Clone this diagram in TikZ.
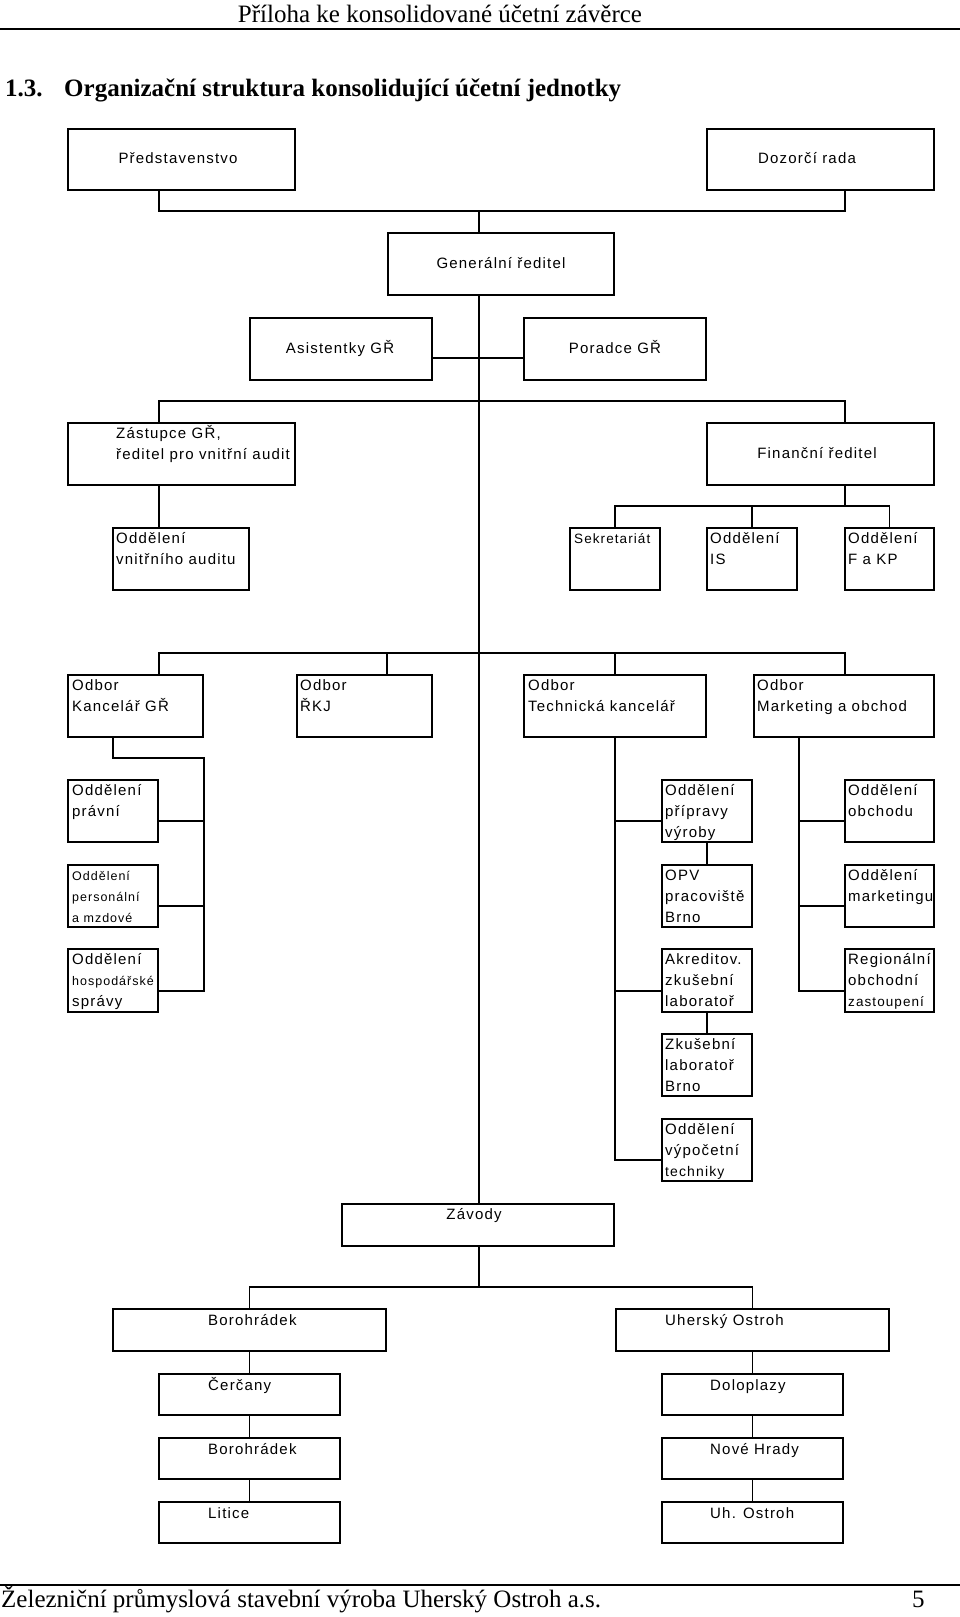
\documentclass[tikz,border=0pt]{standalone}
\usepackage{fontspec}
\setmainfont{Liberation Serif}
\newfontfamily\arl[LetterSpace=8]{Liberation Sans}
\tikzset{
  ubox/.style={draw=black, line width=2.4pt, fill=white, inner sep=0pt},
  ln/.style={draw=black, line width=1.3pt},
  tx/.style={inner sep=0pt, font=\arl\fontsize{15}{21}\selectfont},
  hd/.style={inner sep=0pt, font=\fontsize{25}{30}\selectfont},
}
\newcommand\ml[1]{\vtop{\baselineskip=21pt\lineskiplimit=-50pt\halign{##\hfil\cr#1\crcr}}}
\newcommand\sm{\fontsize{12.5}{15}\selectfont}
\newcommand\smm{\fontsize{13.5}{15}\selectfont}
\newcommand\smt{\fontsize{14}{15}\selectfont}
\newcommand\bx[5]{\node[ubox, minimum width={#4-#2-2.4}, minimum height={#5-#3-2.4}] (#1) at ({(#2+#4)/2},{(#3+#5)/2}) {};}
\newcommand\tl[4]{\node[tx, anchor=base west] (#1) at (#2,#3) {\ml{#4}};}
\newcommand\tc[4]{\node[tx, anchor=base] (#1) at (#2,#3) {#4};}
\begin{document}
\begin{tikzpicture}[x=1pt,y=-1pt]
\useasboundingbox[fill=white] (0,0) rectangle (960,1617);
% header and footer
\node[hd, anchor=base] (hdr) at (440,22) {Příloha ke konsolidované účetní závěrce};
\draw[line width=2pt] (0,29) -- (960,29);
\node[hd, anchor=base west, font=\bfseries\fontsize{25}{30}\selectfont] (tnum) at (5,96) {1.3.};
\node[hd, anchor=base west, font=\bfseries\fontsize{25}{30}\selectfont] (ttl) at (64,96) {Organizační struktura konsolidující účetní jednotky};
\draw[line width=2pt] (0,1585) -- (960,1585);
\node[hd, anchor=base west] (ftr) at (1,1607) {Železniční průmyslová stavební výroba Uherský Ostroh a.s.};
\node[hd, anchor=base west] (pg) at (912,1607) {5};

% boxes
\bx{pred}{67}{128}{296}{191}
\bx{dozor}{706}{128}{935}{191}
\bx{gen}{387}{232}{615}{296}
\bx{asist}{249}{317}{433}{381}
\bx{porad}{523}{317}{707}{381}
\bx{zast}{67}{422}{296}{486}
\bx{fin}{706}{422}{935}{486}
\bx{ovau}{112}{527}{250}{591}
\bx{sekr}{569}{527}{661}{591}
\bx{ois}{706}{527}{798}{591}
\bx{ofkp}{844}{527}{935}{591}
\bx{okan}{67}{674}{204}{738}
\bx{orkj}{296}{674}{433}{738}
\bx{otk}{523}{674}{707}{738}
\bx{omo}{753}{674}{935}{738}
\bx{oprav}{67}{779}{159}{843}
\bx{opers}{67}{864}{159}{928}
\bx{ohosp}{67}{948}{159}{1013}
\bx{oprip}{661}{779}{753}{843}
\bx{opv}{661}{864}{753}{928}
\bx{akr}{661}{948}{753}{1013}
\bx{zkb}{661}{1033}{753}{1097}
\bx{ovt}{661}{1118}{753}{1182}
\bx{oobch}{844}{779}{935}{843}
\bx{omark}{844}{864}{935}{928}
\bx{oreg}{844}{948}{935}{1013}
\bx{zav}{341}{1203}{615}{1247}
\bx{boro}{112}{1308}{387}{1352}
\bx{uho}{615}{1308}{890}{1352}
\bx{cerc}{158}{1373}{341}{1416}
\bx{borob}{158}{1437}{341}{1480}
\bx{lit}{158}{1501}{341}{1544}
\bx{dolo}{661}{1373}{844}{1416}
\bx{nove}{661}{1437}{844}{1480}
\bx{uhos}{661}{1501}{844}{1544}

% texts
\tc{tpred}{178}{163}{Představenstvo}
\tc{tdozor}{807}{163}{Dozorčí rada}
\tc{tgen}{501}{268}{Generální ředitel}
\tc{tasist}{340}{353}{Asistentky GŘ}
\tc{tporad}{615}{353}{Poradce GŘ}
\tl{tzast}{116}{438}{Zástupce GŘ,\cr ředitel pro vnitřní audit}
\tc{tfin}{817}{458}{Finanční ředitel}
\tl{tovau}{116}{543}{Oddělení\cr vnitřního auditu}
\tl{tsekr}{574}{543}{\smm Sekretariát}
\tl{tois}{710}{543}{Oddělení\cr IS}
\tl{tofkp}{848}{543}{Oddělení\cr F a KP}
\tl{tokan}{72}{690}{Odbor\cr Kancelář GŘ}
\tl{torkj}{300}{690}{Odbor\cr ŘKJ}
\tl{totk}{528}{690}{Odbor\cr Technická kancelář}
\tl{tomo}{757}{690}{Odbor\cr Marketing a obchod}
\tl{toprav}{72}{795}{Oddělení\cr právní}
\tl{topers}{72}{880}{\sm Oddělení\cr \sm personální\cr \sm a mzdové}
\tl{tohosp}{72}{964}{Oddělení\cr \sm hospodářské\cr správy}
\tl{toprip}{665}{795}{Oddělení\cr přípravy\cr výroby}
\tl{topv}{665}{880}{OPV\cr pracoviště\cr Brno}
\tl{takr}{665}{964}{Akreditov.\cr zkušební\cr laboratoř}
\tl{tzkb}{665}{1049}{Zkušební\cr laboratoř\cr Brno}
\tl{tovt}{665}{1134}{Oddělení\cr výpočetní\cr \smt techniky}
\tl{toobch}{848}{795}{Oddělení\cr obchodu}
\tl{tomark}{848}{880}{Oddělení\cr marketingu}
\tl{toreg}{848}{964}{Regionální\cr obchodní\cr \smm zastoupení}
\tc{tzav}{474}{1219}{Závody}
\tl{tboro}{208}{1325}{Borohrádek}
\tl{tuho}{665}{1325}{Uherský Ostroh}
\tl{tcerc}{208}{1390}{Čerčany}
\tl{tborob}{208}{1454}{Borohrádek}
\tl{tlit}{208}{1518}{Litice}
\tl{tdolo}{710}{1390}{Doloplazy}
\tl{tnove}{710}{1454}{Nové Hrady}
\tl{tuhos}{710}{1518}{Uh. Ostroh}

% connectors
\coordinate (t1) at (159,211);
\coordinate (t2) at (845,211);
\coordinate (tm) at (479,211);
\draw[ln] (t1 |- pred.south) -- (t1) -- (t2) -- (t2 |- dozor.south);
\draw[ln] (tm) -- (tm |- gen.north);
\draw[ln] (tm |- gen.south) -- (tm |- zav.north);
\coordinate (ap) at (479,358);
\draw[ln] (asist.east |- ap) -- (porad.west |- ap);
\coordinate (r2l) at (159,401);
\coordinate (r2r) at (845,401);
\draw[ln] (r2l |- zast.north) -- (r2l) -- (r2r) -- (r2r |- fin.north);
\draw[ln] (r2l |- zast.south) -- (r2l |- ovau.north);
\coordinate (f1) at (845,506);
\draw[ln] (f1 |- fin.south) -- (f1);
\draw[ln] (sekr.north) -- (sekr.north |- f1) -- (ofkp.north |- f1) -- (ofkp.north);
\draw[ln] (ois.north |- f1) -- (ois.north);
\coordinate (r3l) at (159,653);
\coordinate (r3r) at (845,653);
\coordinate (r3b) at (387,653);
\draw[ln] (r3l |- okan.north) -- (r3l) -- (r3r) -- (r3r |- omo.north);
\draw[ln] (r3b) -- (r3b |- orkj.north);
\draw[ln] (otk.north |- r3l) -- (otk.north);
% left column
\coordinate (k1) at (113,758);
\coordinate (k2) at (204,758);
\coordinate (k3) at (204,991);
\coordinate (k4) at (204,821);
\coordinate (k5) at (204,906);
\draw[ln] (k1 |- okan.south) -- (k1) -- (k2) -- (k3) -- (ohosp.east |- k3);
\draw[ln] (k4) -- (oprav.east |- k4);
\draw[ln] (k5) -- (opers.east |- k5);
% technical column
\coordinate (tk1) at (615,821);
\coordinate (tk2) at (615,991);
\coordinate (tk3) at (615,1160);
\draw[ln] (otk.south) -- (tk3) -- (ovt.west |- tk3);
\draw[ln] (tk1) -- (oprip.west |- tk1);
\draw[ln] (tk2) -- (akr.west |- tk2);
\draw[ln] (oprip.south) -- (opv.north);
\draw[ln] (akr.south) -- (zkb.north);
% marketing column
\coordinate (m1) at (799,821);
\coordinate (m2) at (799,906);
\coordinate (m3) at (799,991);
\draw[ln] (m1 |- omo.south) -- (m3) -- (oreg.west |- m3);
\draw[ln] (m1) -- (oobch.west |- m1);
\draw[ln] (m2) -- (omark.west |- m2);
% plants
\coordinate (z1) at (250,1287);
\draw[ln] (tm |- zav.south) -- (tm |- z1);
\draw[ln] (boro.north) -- (boro.north |- z1) -- (uho.north |- z1) -- (uho.north);
\draw[ln] (boro.south) -- (cerc.north);
\draw[ln] (cerc.south) -- (borob.north);
\draw[ln] (borob.south) -- (lit.north);
\draw[ln] (uho.south) -- (dolo.north);
\draw[ln] (dolo.south) -- (nove.north);
\draw[ln] (nove.south) -- (uhos.north);
\end{tikzpicture}
\end{document}
